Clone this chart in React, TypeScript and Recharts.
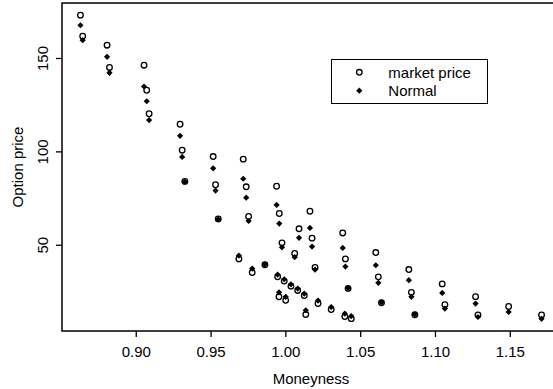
import { Legend, ReferenceArea, Scatter, ScatterChart, XAxis, YAxis } from "recharts";

// values
const moneyness = [
  0.8627, 0.8642, 0.8805, 0.8821, 0.9052, 0.907, 0.9086, 0.9293, 0.9307, 0.9325,
  0.9514, 0.953, 0.9548, 0.9686, 0.9715, 0.9735, 0.9751, 0.9775, 0.986, 0.9938,
  0.9945, 0.9954, 0.9956, 0.9974, 0.9989, 0.9999, 1.0034, 1.0059, 1.0079, 1.0088,
  1.0123, 1.0133, 1.0161, 1.0175, 1.0195, 1.0215, 1.0303, 1.038, 1.0394, 1.0398,
  1.0416, 1.0437, 1.0601, 1.0618, 1.0639, 1.0822, 1.0839, 1.0862, 1.1045, 1.1063,
  1.1268, 1.1284, 1.1489, 1.1709,
];
const marketPrice = [
  173.2, 161.9, 157.1, 145.2, 146.4, 133.0, 120.4, 114.8, 100.9, 84.2,
  97.5, 82.4, 64.1, 42.7, 96.1, 81.3, 65.4, 35.4, 39.6, 81.6,
  33.1, 22.4, 67.0, 51.3, 30.8, 20.5, 28.1, 45.6, 25.8, 58.8,
  23.1, 12.9, 68.2, 53.8, 38.1, 18.8, 15.6, 56.6, 11.8, 42.7,
  26.9, 10.7, 46.1, 33.1, 19.2, 37.0, 24.8, 12.8, 29.3, 18.2,
  22.5, 12.7, 17.2, 12.7,
];
const normalPrice = [
  167.8, 159.8, 150.9, 142.3, 135.0, 127.1, 117.0, 108.6, 97.3, 84.0,
  91.2, 79.3, 63.9, 44.5, 85.6, 75.5, 63.0, 37.5, 39.8, 71.6,
  34.3, 24.8, 61.6, 48.9, 31.8, 22.4, 29.1, 43.6, 26.8, 54.0,
  24.1, 15.2, 59.3, 49.3, 37.0, 20.4, 16.9, 48.6, 13.4, 38.6,
  27.1, 12.1, 39.3, 29.9, 19.4, 31.3, 22.4, 13.0, 24.5, 16.1,
  18.8, 11.6, 14.3, 10.6,
];
const xTicks = [0.9, 0.95, 1.0, 1.05, 1.1, 1.15];
const yTicks = [50, 100, 150];

const FONT = '"Liberation Sans", Arial, Helvetica, sans-serif';

// R-style axis range: data range plus 4% on each side
function padRange(values: number[]): [number, number] {
  const lo = Math.min(...values);
  const hi = Math.max(...values);
  const p = (hi - lo) * 0.04;
  return [lo - p, hi + p];
}

const marketData = moneyness.map((x, i) => ({ x, y: marketPrice[i] }));
const normalData = moneyness.map((x, i) => ({ x, y: normalPrice[i] }));
const xDomain = padRange(moneyness);
const yDomain = padRange([...marketPrice, ...normalPrice]);

const OpenCircle = (props: any) => (
  <circle cx={props.cx} cy={props.cy} r={2.8} fill="none" stroke="#000" strokeWidth={1.3} />
);

const Diamond = (props: any) => {
  const { cx, cy } = props;
  const s = 3.1;
  return (
    <polygon
      points={`${cx},${cy - s} ${cx + s},${cy} ${cx},${cy + s} ${cx - s},${cy}`}
      fill="#000"
    />
  );
};

const YTick = ({ x, y, payload }: any) => (
  <text
    x={x}
    y={y}
    transform={`rotate(-90 ${x} ${y})`}
    textAnchor="middle"
    fontSize={15}
    fontFamily={FONT}
    fill="#000"
  >
    {payload.value}
  </text>
);

function LegendBox() {
  return (
    <svg width={157} height={45} style={{ display: "block" }}>
      <rect x={0.5} y={0.5} width={156} height={44} fill="#fff" stroke="#000" strokeWidth={1} />
      <OpenCircle cx={28.3} cy={13.3} />
      <Diamond cx={28.3} cy={31.7} />
      <text x={57.3} y={18.6} fontSize={15} fontFamily={FONT} fill="#000">
        market price
      </text>
      <text x={57.3} y={37} fontSize={15} fontFamily={FONT} fill="#000">
        Normal
      </text>
    </svg>
  );
}

export default function App() {
  return (
    <div
      style={{
        position: "absolute",
        left: 0,
        top: 0,
        width: 553,
        height: 389,
        overflow: "hidden",
        background: "#fff",
      }}
    >
      <ScatterChart width={570} height={389} margin={{ top: 3, right: 10, bottom: 0, left: 0 }}>
        <XAxis
          type="number"
          dataKey="x"
          domain={xDomain}
          ticks={xTicks}
          allowDataOverflow
          tickFormatter={(v: number) => v.toFixed(2)}
          height={58}
          axisLine={false}
          tickLine={{ stroke: "#000", strokeWidth: 1.3 }}
          tickSize={6}
          tickMargin={9.5}
          tick={{ fontSize: 15, fontFamily: FONT, fill: "#000" }}
          label={{
            content: (p: any) => (
              <text
                x={p.viewBox.x + p.viewBox.width / 2}
                y={p.viewBox.y + 52.5}
                textAnchor="middle"
                fontSize={15}
                fontFamily={FONT}
                fill="#000"
              >
                Moneyness
              </text>
            ),
          }}
        />
        <YAxis
          type="number"
          dataKey="y"
          domain={yDomain}
          ticks={yTicks}
          allowDataOverflow
          width={62}
          axisLine={false}
          tickLine={{ stroke: "#000", strokeWidth: 1.3 }}
          tickSize={6}
          tickMargin={8}
          tick={<YTick />}
          label={{
            content: (p: any) => {
              const cx = p.viewBox.x + 22.5;
              const cy = p.viewBox.y + p.viewBox.height / 2;
              return (
                <text
                  x={cx}
                  y={cy}
                  transform={`rotate(-90 ${cx} ${cy})`}
                  textAnchor="middle"
                  fontSize={15}
                  fontFamily={FONT}
                  fill="#000"
                >
                  Option price
                </text>
              );
            },
          }}
        />
        <ReferenceArea
          x1={xDomain[0]}
          x2={xDomain[1]}
          y1={yDomain[0]}
          y2={yDomain[1]}
          fill="none"
          stroke="#000"
          strokeWidth={1.5}
        />
        <Scatter name="market price" data={marketData} shape={OpenCircle} isAnimationActive={false} />
        <Scatter name="Normal" data={normalData} shape={Diamond} isAnimationActive={false} />
        <Legend
          layout="vertical"
          align="center"
          verticalAlign="middle"
          wrapperStyle={{ position: "absolute", left: 331, top: 59, width: 157, height: 45 }}
          content={<LegendBox />}
        />
      </ScatterChart>
    </div>
  );
}
